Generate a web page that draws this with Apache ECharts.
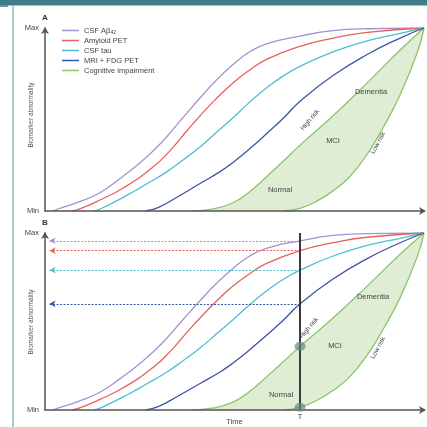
<!DOCTYPE html>
<html><head><meta charset="utf-8">
<script src="https://cdn.jsdelivr.net/npm/echarts@6/dist/echarts.min.js"></script>
<style>html,body{margin:0;padding:0;background:#fff}#c{width:427px;height:427px}</style>
</head><body><div id="c"></div>
<script>
// ---- data (time 0-100, biomarker abnormality 0=Min .. 100=Max) ----
const seriesNames = ['CSF Aβ42', 'Amyloid PET', 'CSF tau', 'MRI + FDG PET', 'Cognitive impairment'];
const csfAbeta = [[2,0],[4,1.5],[9,5],[14.5,10],[20,18],[26,28],[31,38],[36.4,51],[41,62],[45,71],[49.6,80],[54,87],[58.6,91.5],[67.3,95.6],[76,98.6],[85,99.6],[100,100]];
const amyloidPet = [[7,0],[9,1],[14.5,6],[21,13],[28.5,24],[33,33],[37.5,44],[40.9,52],[45,61],[49.6,70],[54,77],[58.6,83],[67.3,90],[76,94.5],[85,97.6],[100,100]];
const csfTau = [[13,0],[15,1.5],[21.6,8.5],[27,15],[32.2,21.5],[36.5,28],[40.9,35],[45,42.5],[49.6,51],[54,59.5],[58.6,67.5],[63,74],[67.3,79],[76,87],[85,93],[93.7,97],[100,100]];
const mriFdg = [[26.5,0],[30,2],[35.6,8.5],[40.9,15],[46.2,21.5],[49.6,26.5],[54,34],[58.6,42.5],[63,51],[67.3,60],[76,74],[85,85.5],[93.7,94.5],[100,100]];
const cogHighRisk = [[39,0],[44,1],[49.6,4.5],[54,10.5],[58.6,19],[63,27.5],[67.3,36],[76,52],[85,70],[93.7,88],[100,100]];
const cogLowRisk = [[63,0],[67.3,1.5],[71.8,5.5],[76,11],[80.5,19],[85,31],[89.2,45.5],[93.7,63.5],[98.2,86.5],[100,100]];
const timeT = 67.3;
const valuesAtT = [95.6, 90, 79, 60];      // biomarker levels read at time T
const cognitionAtT = [36, 1.5];           // high-risk / low-risk cognition at T
const yTickLabels = {0: 'Min', 100: 'Max'};

const colors = ['#a193d0', '#e8605c', '#4cbfd0', '#3c54a4', '#8cc46e'];
const fillGreen = '#deedd3';
const FONT = "'Liberation Sans Narrow','Liberation Sans',sans-serif";
const SMOOTH = 0.5;

const chart = echarts.init(document.getElementById('c'));
const curves = [csfAbeta, amyloidPet, csfTau, mriFdg];

function axisPair(i) {
  return [{
    type: 'value', gridIndex: i, min: 0, max: 100, z: 4,
    axisLine: {show: true, onZero: false, lineStyle: {color: '#555', width: 1.5}, symbol: ['none', 'arrow'], symbolSize: [6, 7], symbolOffset: [0, 2]},
    axisTick: {show: false}, axisLabel: {show: false}, splitLine: {show: false},
    name: i === 1 ? 'Time' : '', nameLocation: 'middle', nameGap: 8,
    nameTextStyle: {fontSize: 7.5, color: '#444', fontFamily: FONT}
  }, {
    type: 'value', gridIndex: i, min: 0, max: 100, interval: 100, z: 4,
    axisLine: {show: true, lineStyle: {color: '#555', width: 1.5}, symbol: ['none', 'arrow'], symbolSize: [6, 7], symbolOffset: [0, 1]},
    axisTick: {show: false}, splitLine: {show: false},
    axisLabel: {fontSize: 7.5, color: '#444', margin: 6, fontFamily: FONT, formatter: v => yTickLabels[v] || ''}
  }];
}
const ax0 = axisPair(0), ax1 = axisPair(1);

const series = [];
for (let g = 0; g < 2; g++) {
  series.push({
    name: seriesNames[4], type: 'line', xAxisIndex: g, yAxisIndex: g, data: cogHighRisk,
    smooth: SMOOTH, showSymbol: false, symbol: 'none', z: 1,
    lineStyle: {color: colors[4], width: 1.3}, itemStyle: {color: colors[4]},
    areaStyle: {color: fillGreen, opacity: 1, origin: 'start'},
    markLine: g === 1 ? {
      silent: true, symbol: 'none', z: 6,
      lineStyle: {color: '#3a3a3a', width: 2, type: 'solid'},
      label: {show: true, position: 'start', formatter: 'T', fontSize: 7.5, color: '#444', distance: 3, fontFamily: FONT},
      data: [{xAxis: timeT}]
    } : undefined
  });
  series.push({
    name: seriesNames[4], type: 'line', xAxisIndex: g, yAxisIndex: g, data: cogLowRisk,
    smooth: SMOOTH, showSymbol: false, symbol: 'none', z: 1,
    lineStyle: {color: colors[4], width: 1.3}, itemStyle: {color: colors[4]},
    areaStyle: {color: '#ffffff', opacity: 1, origin: 'start'}
  });
  curves.forEach((d, i) => {
    const s = {
      name: seriesNames[i], type: 'line', xAxisIndex: g, yAxisIndex: g, data: d,
      smooth: SMOOTH, showSymbol: false, symbol: 'none', z: 2,
      lineStyle: {color: colors[i], width: 1.3}, itemStyle: {color: colors[i]}
    };
    if (g === 1) {
      s.markLine = {
        silent: true, symbol: ['arrow', 'none'], symbolSize: [5, 6], z: 3,
        lineStyle: {color: colors[i], width: 1, type: [2, 1.5]}, label: {show: false},
        data: [[{coord: [1.2, valuesAtT[i]]}, {coord: [timeT, valuesAtT[i]]}]]
      };
    }
    series.push(s);
  });
  if (g === 1) {
    series.push({
      name: 'cognition at T', type: 'scatter', xAxisIndex: 1, yAxisIndex: 1, z: 8,
      data: cognitionAtT.map(v => [timeT, v]), symbol: 'circle', symbolSize: [11, 9],
      itemStyle: {color: 'rgba(100,135,125,0.85)'}, silent: true
    });
  }
}

const txt = (x, y, s, size, rot, weight, fill) => ({
  type: 'text', x: x, y: y, rotation: (rot || 0) * Math.PI / 180, z: 20,
  style: {text: s, fontSize: size, fill: fill || '#444', fontWeight: weight || 'normal', fontFamily: FONT, align: 'center', verticalAlign: 'middle'}
});

const graphic = [
  {type: 'rect', shape: {x: 0, y: 0, width: 427, height: 5}, style: {fill: '#3f7e88'}, z: 20},
  {type: 'rect', shape: {x: 0, y: 5, width: 427, height: 1}, style: {fill: '#9cc2c6'}, z: 20},
  {type: 'rect', shape: {x: 0, y: 5, width: 8, height: 2}, style: {fill: '#5b9aa2'}, z: 20},
  {type: 'line', shape: {x1: 13, y1: 6, x2: 13, y2: 427}, style: {stroke: '#6aaeb0', lineWidth: 1.2}, z: 20},
  txt(45, 18, 'A', 8, 0, 'bold', '#333'),
  txt(45, 223, 'B', 8, 0, 'bold', '#333'),
  txt(31, 115, 'Biomarker abnormality', 6.5, 90, 'normal', '#555'),
  txt(31, 322, 'Biomarker abnormality', 6.5, 90, 'normal', '#555'),
  txt(280, 190, 'Normal', 7.5), txt(333, 141, 'MCI', 7.5), txt(371, 92, 'Dementia', 7.5),
  txt(310, 120, 'High risk', 6.5, 50), txt(378, 143, 'Low risk', 6.5, 62),
  txt(281, 395, 'Normal', 7.5), txt(335, 346, 'MCI', 7.5), txt(373, 297, 'Dementia', 7.5),
  txt(309, 328, 'High risk', 6.5, 50), txt(378, 348, 'Low risk', 6.5, 62)
];

chart.setOption({
  animation: false,
  backgroundColor: '#fff',
  grid: [
    {left: 45, top: 28, width: 379, height: 183},
    {left: 45, top: 233, width: 379, height: 181}
  ],
  xAxis: [ax0[0], ax1[0]],
  yAxis: [ax0[1], ax1[1]],
  legend: {
    data: seriesNames, left: 57, top: 21, orient: 'vertical', itemGap: 1,
    itemWidth: 17, itemHeight: 1.5, icon: 'rect', selectedMode: false,
    textStyle: {fontSize: 7.5, color: '#444', lineHeight: 9, fontFamily: FONT,
      rich: {sub: {fontSize: 5, verticalAlign: 'bottom', lineHeight: 9, color: '#444', padding: [3, 0, 0, 0]}}},
    formatter: n => n === 'CSF Aβ42' ? 'CSF Aβ{sub|42}' : n
  },
  series: series,
  graphic: graphic
});
</script></body></html>
